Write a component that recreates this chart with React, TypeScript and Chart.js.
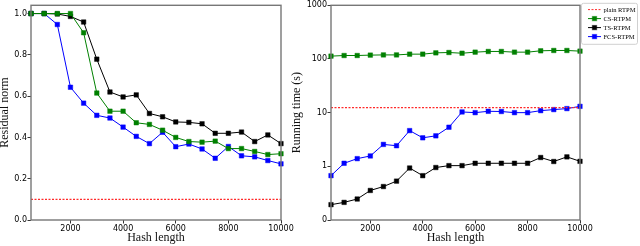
import React, { useEffect, useRef } from 'react';
import { Chart, registerables } from 'chart.js';

Chart.register(...registerables);

const hashLengths = [500, 1000, 1500, 2000, 2500, 3000, 3500, 4000, 4500, 5000, 5500, 6000, 6500, 7000, 7500, 8000, 8500, 9000, 9500, 10000];

const residualCS = [1.0, 1.0, 1.0, 1.0, 0.907, 0.615, 0.527, 0.527, 0.471, 0.463, 0.435, 0.4, 0.38, 0.377, 0.382, 0.346, 0.346, 0.332, 0.317, 0.321];
const residualTS = [1.0, 1.0, 0.998, 0.986, 0.959, 0.779, 0.62, 0.596, 0.606, 0.516, 0.5, 0.475, 0.473, 0.466, 0.42, 0.42, 0.426, 0.38, 0.412, 0.37];
const residualFCS = [1.0, 1.0, 0.947, 0.643, 0.566, 0.507, 0.494, 0.45, 0.405, 0.37, 0.425, 0.355, 0.368, 0.344, 0.299, 0.356, 0.311, 0.306, 0.288, 0.272];
const residualPlain = 0.1;

const timeCS = [113, 116, 116, 118, 119, 119, 123, 123, 130, 132, 128, 134, 138, 138, 134, 134, 142, 144, 144, 140];
const timeTS = [0.193, 0.213, 0.246, 0.355, 0.42, 0.53, 0.93, 0.67, 0.95, 1.03, 1.03, 1.14, 1.14, 1.14, 1.14, 1.14, 1.46, 1.23, 1.5, 1.24];
const timeFCS = [0.67, 1.14, 1.39, 1.56, 2.56, 2.42, 4.63, 3.4, 3.7, 5.35, 10.3, 10.0, 10.6, 10.5, 10.0, 10.0, 10.9, 11.4, 11.9, 13.1];
const timePlain = 12.4;

const xTicks = [2000, 4000, 6000, 8000, 10000];
const residualTicks = [0, 0.2, 0.4, 0.6, 0.8, 1.0];
const timeTicks = [0.1, 1, 10, 100, 1000];
const timeTickLabels = ['0', '1', '10', '100', '1000'];

const seriesLabels = ['plain RTPM', 'CS-RTPM', 'TS-RTPM', 'FCS-RTPM'];

const SERIF = "'Liberation Serif', 'DejaVu Serif', serif";
const SANS = "'DejaVu Sans', sans-serif";

const RED = '#ff2a2a';
const GREEN = '#008000';
const BLACK = '#000000';
const BLUE = '#0000ff';
const EDGE = { [GREEN]: 'rgba(0,128,0,0.45)', [BLACK]: 'rgba(0,0,0,0.45)', [BLUE]: 'rgba(0,0,255,0.45)' } as Record<string, string>;

function toPoints(values: number[]) {
  return hashLengths.map((x, i) => ({ x, y: values[i] }));
}

function constPoints(v: number) {
  return hashLengths.map((x) => ({ x, y: v }));
}

function series(label: string, color: string, values: number[]) {
  return {
    label,
    data: toPoints(values),
    borderColor: color,
    backgroundColor: color,
    pointBackgroundColor: color,
    pointBorderColor: EDGE[color],
    pointBorderWidth: 1,
    pointStyle: 'rect',
    pointRadius: 3.2,
    borderWidth: 1,
    tension: 0,
    clip: false as any,
  };
}

function plainSeries(label: string, v: number) {
  return {
    label,
    data: [
      { x: hashLengths[0], y: v },
      { x: hashLengths[hashLengths.length - 1], y: v },
    ],
    borderColor: RED,
    backgroundColor: RED,
    borderWidth: 1.3,
    borderDash: [2, 1.5],
    pointRadius: 0,
    tension: 0,
  };
}

const framePlugin = {
  id: 'frame',
  afterDatasetsDraw(chart: any) {
    const { ctx, chartArea: a } = chart;
    ctx.save();
    ctx.strokeStyle = '#777777';
    ctx.lineWidth = 1.4;
    ctx.strokeRect(a.left, a.top, a.right - a.left, a.bottom - a.top);
    ctx.restore();
  },
};

const legendPlugin = {
  id: 'customLegend',
  afterDraw(chart: any) {
    const { ctx, chartArea: a } = chart;
    const bx = a.right + 1.5;
    const by = a.top - 2;
    const bw = 56;
    const bh = 41;
    ctx.save();
    ctx.fillStyle = 'rgba(255,255,255,0.9)';
    ctx.strokeStyle = '#d0d0d0';
    ctx.lineWidth = 1;
    ctx.beginPath();
    const r = 2;
    ctx.moveTo(bx + r, by);
    ctx.lineTo(bx + bw - r, by);
    ctx.quadraticCurveTo(bx + bw, by, bx + bw, by + r);
    ctx.lineTo(bx + bw, by + bh - r);
    ctx.quadraticCurveTo(bx + bw, by + bh, bx + bw - r, by + bh);
    ctx.lineTo(bx + r, by + bh);
    ctx.quadraticCurveTo(bx, by + bh, bx, by + bh - r);
    ctx.lineTo(bx, by + r);
    ctx.quadraticCurveTo(bx, by, bx + r, by);
    ctx.closePath();
    ctx.fill();
    ctx.stroke();
    chart.data.datasets.forEach((ds: any, i: number) => {
      const y = by + 6.3 + i * 9;
      const x0 = bx + 6.5;
      const x1 = bx + 19.5;
      ctx.save();
      ctx.strokeStyle = ds.borderColor;
      ctx.lineWidth = 1;
      if (ds.borderDash) ctx.setLineDash(ds.borderDash);
      ctx.beginPath();
      ctx.moveTo(x0, y);
      ctx.lineTo(x1, y);
      ctx.stroke();
      ctx.restore();
      if (ds.pointRadius > 0) {
        const s = 2.2;
        ctx.fillStyle = ds.pointBackgroundColor;
        ctx.fillRect((x0 + x1) / 2 - s, y - s, 2 * s, 2 * s);
        ctx.strokeStyle = ds.pointBorderColor;
        ctx.strokeRect((x0 + x1) / 2 - s, y - s, 2 * s, 2 * s);
      }
      ctx.fillStyle = '#000';
      ctx.font = `6.5px ${SERIF}`;
      ctx.textBaseline = 'middle';
      ctx.textAlign = 'left';
      ctx.fillText(ds.label, bx + 22, y + 0.3);
    });
    ctx.restore();
  },
};

function xScale() {
  return {
    type: 'linear',
    min: 500,
    max: 10000,
    afterBuildTicks: (ax: any) => {
      ax.ticks = xTicks.map((v) => ({ value: v }));
    },
    afterFit: (ax: any) => {
      ax.height = 26;
    },
    grid: { display: true, drawOnChartArea: false, drawTicks: true, tickLength: 3.5, tickColor: '#000', tickWidth: 0.8 },
    border: { display: false },
    ticks: {
      font: { family: SANS, size: 8 },
      color: '#000',
      padding: 1,
      maxRotation: 0,
      autoSkip: false,
      callback: (v: any) => String(v),
    },
    title: {
      display: true,
      text: 'Hash length',
      font: { family: SERIF, size: 12 },
      color: '#111',
      padding: { top: 0, bottom: 1 },
    },
  };
}

function yTitle(text: string, pad: number) {
  return {
    display: true,
    text,
    font: { family: SERIF, size: 12 },
    color: '#111',
    padding: { top: pad, bottom: 0 },
  };
}

function useChart(ref: React.RefObject<HTMLCanvasElement | null>, makeConfig: () => any) {
  useEffect(() => {
    if (!ref.current) return;
    const chart = new Chart(ref.current, makeConfig());
    return () => chart.destroy();
  }, []);
}

export default function App() {
  const leftRef = useRef<HTMLCanvasElement>(null);
  const rightRef = useRef<HTMLCanvasElement>(null);

  useChart(leftRef, () => ({
    type: 'line',
    data: {
      datasets: [
        plainSeries(seriesLabels[0], residualPlain),
        series(seriesLabels[1], GREEN, residualCS),
        series(seriesLabels[2], BLACK, residualTS),
        series(seriesLabels[3], BLUE, residualFCS),
      ],
    },
    options: {
      animation: false,
      responsive: false,
      layout: { padding: { left: 0, top: 3, right: 39, bottom: 0 } },
      plugins: { legend: { display: false }, tooltip: { enabled: false } },
      scales: {
        x: xScale(),
        y: {
          type: 'linear',
          min: 0,
          max: 1.04,
          afterBuildTicks: (ax: any) => {
            ax.ticks = residualTicks.map((v) => ({ value: v }));
          },
          afterFit: (ax: any) => {
            ax.width = 31;
          },
          grid: { display: true, drawOnChartArea: false, drawTicks: true, tickLength: 3.5, tickColor: '#000', tickWidth: 0.8 },
          border: { display: false },
          ticks: {
            font: { family: SANS, size: 8 },
            color: '#000',
            padding: 0.5,
            callback: (v: any) => Number(v).toFixed(1),
          },
          title: yTitle('Residual norm', -2),
        },
      },
    },
    plugins: [framePlugin],
  }));

  useChart(rightRef, () => ({
    type: 'line',
    data: {
      datasets: [
        plainSeries(seriesLabels[0], timePlain),
        series(seriesLabels[1], GREEN, timeCS),
        series(seriesLabels[2], BLACK, timeTS),
        series(seriesLabels[3], BLUE, timeFCS),
      ],
    },
    options: {
      animation: false,
      responsive: false,
      layout: { padding: { left: 0, top: 3, right: 60, bottom: 0 } },
      plugins: { legend: { display: false }, tooltip: { enabled: false } },
      scales: {
        x: xScale(),
        y: {
          type: 'logarithmic',
          min: 0.1,
          max: 1000,
          afterBuildTicks: (ax: any) => {
            ax.ticks = timeTicks.map((v) => ({ value: v }));
          },
          afterFit: (ax: any) => {
            ax.width = 41;
          },
          grid: { display: true, drawOnChartArea: false, drawTicks: true, tickLength: 3.5, tickColor: '#000', tickWidth: 0.8 },
          border: { display: false },
          ticks: {
            font: { family: SANS, size: 8 },
            color: '#000',
            padding: 0.5,
            autoSkip: false,
            callback: (_v: any, i: number) => timeTickLabels[i],
          },
          title: yTitle('Running time (s)', 0),
        },
      },
    },
    plugins: [framePlugin, legendPlugin],
  }));

  return (
    <div style={{ position: 'fixed', left: 0, top: 0, width: 640, height: 246, background: '#fff' }}>
      <canvas ref={leftRef} width={320} height={246} style={{ position: 'absolute', left: 0, top: 0 }} />
      <canvas ref={rightRef} width={350} height={246} style={{ position: 'absolute', left: 290, top: 0 }} />
    </div>
  );
}
